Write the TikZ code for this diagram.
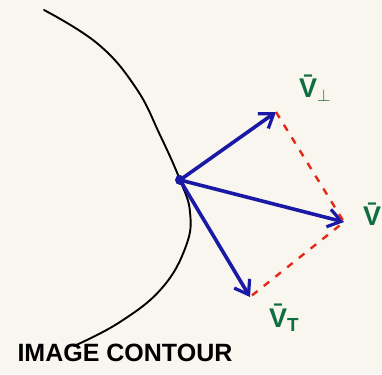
\documentclass[tikz,border=0pt]{standalone}
\usepackage{fontspec}
\setsansfont{Liberation Sans}
\usepackage{tikz}
\usetikzlibrary{arrows.meta}
\definecolor{penBlue}{RGB}{25,25,165}
\definecolor{penRed}{RGB}{228,40,25}
\definecolor{penGreen}{RGB}{15,110,65}
\definecolor{paper}{RGB}{248,246,238}

\begin{document}
\begin{tikzpicture}[x=1pt, y=-1pt,
  vec/.style={penBlue, line width=3.6pt, line cap=round, -{Straight Barb[length=13pt, width=18pt, line width=3.2pt]}},
  comp/.style={penRed, line width=2.4pt, dash pattern=on 7pt off 8pt},
  lbl/.style={penGreen, inner sep=1pt, font=\sffamily\bfseries\fontsize{27}{27}\selectfont}]
  % paper — 382 x 374 px
  \fill[paper] (0,0) rectangle (382,374);
  \useasboundingbox (0,0) rectangle (382,374);

  % contour
  \draw[black, line width=1.9pt, line cap=round] plot[smooth, tension=0.7] coordinates {
    (44,10)(98,44)(136,88)(160,135)(180,180)(190,212)(186,246)(162,288)(120,322)(74,346)
  };

  % point on contour and tips
  \coordinate (p) at (180,180);
  \coordinate (vperp) at (276,112);
  \coordinate (v) at (344,222);
  \coordinate (vt) at (250,297);
  \fill[penBlue] (p) circle (5pt);

  % vectors
  \draw[vec] (p) -- (vperp);
  \draw[vec] (p) -- (v);
  \draw[vec] (p) -- (vt);

  % components
  \draw[comp] (vperp) -- (v) -- (vt);

  % labels
  \node[lbl, anchor=west] (lperp) at (298,88) {\={V}\textsubscript{$\perp$}};
  \node[lbl, anchor=west] (lv) at (362,214) {\={V}};
  \node[lbl, anchor=west] (lvt) at (268,318) {\={V}\textsubscript{T}};
  \node[font=\sffamily\bfseries\fontsize{25}{25}\selectfont, anchor=base west] (cap) at (14,361) {IMAGE CONTOUR};
\end{tikzpicture}
\end{document}
